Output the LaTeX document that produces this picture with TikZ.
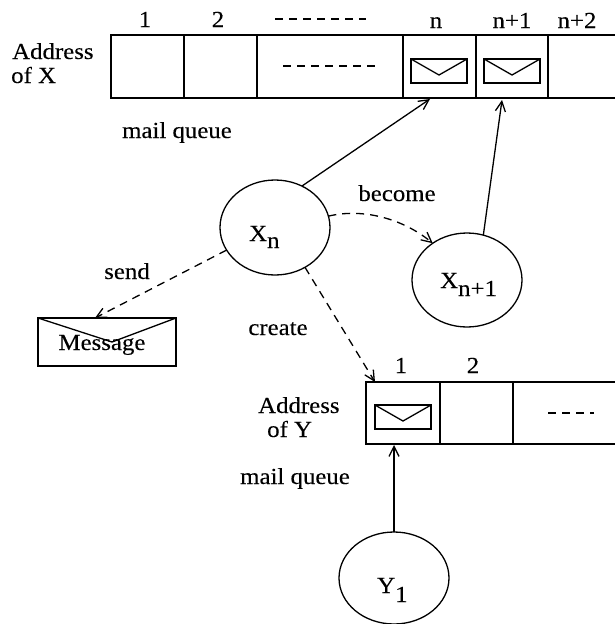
\documentclass[tikz,border=0pt]{standalone}
\usepackage{fontspec}
\setmainfont[FakeStretch=1.08,FakeBold=0.15]{Liberation Serif}
\usetikzlibrary{arrows.meta,shapes.geometric}
\tikzset{
  every node/.style={font=\fontsize{23}{25}\selectfont, inner sep=0pt},
  queue/.style={draw, line width=1.3pt},
  env/.style={draw, line width=1.3pt},
  actor/.style={draw, ellipse, line width=1.3pt, minimum width=110pt, outer sep=0pt},
  link/.style={line width=1.3pt, -{Straight Barb[length=10pt,width=10pt]}},
  dlink/.style={link, dash pattern=on 8pt off 6pt},
  lbl/.style={anchor=base},
  lbw/.style={anchor=base west},
  vdash/.style={line width=1.1pt, dash pattern=on 8pt off 6pt}
}
\newcommand{\envl}[2]{\draw[env] (#1,#2) rectangle ++(56,24); \draw[env] (#1,#2) -- ++(28,16) -- ++(28,-16);}
\begin{document}
\begin{tikzpicture}[x=1pt,y=-1pt]
\useasboundingbox (0,0) rectangle (615,624);
% top queue
\draw[queue] (615,35) -- (111,35) -- (111,98) -- (615,98);
\foreach \x in {184,257,403,476,548} \draw[queue] (\x,35) -- (\x,98);
\envl{411}{59}
\envl{484}{59}
\draw[vdash] (283,66) -- (376,66);
\draw[vdash] (275,19) -- (366,19);
\node[lbl] (t1) at (145,27) {1};
\node[lbl] (t2) at (218,27) {2};
\node[lbl] (tn) at (436,28) {n};
\node[lbl] (tnp) at (512,28) {n+1};
\node[lbl] (tnq) at (577,28) {n+2};
\node[lbw] (ax) at (12,59) {Address};
\node[lbw] (ox) at (11,83) {of X};
\node[lbl] (mq) at (177,138) {mail queue};
% targets on the queues
\coordinate (cn) at (430,99);
\coordinate (cnp) at (502,100);
\coordinate (ymsg) at (375,382);
\coordinate (yc) at (394,445);
\coordinate (msgtop) at (95,318);
% actors
\node[actor, minimum height=95pt] (xn) at (275,227.5) {};
\node[lbw] (xnl) at (249,241) {X\raisebox{-7pt}{n}};
\node[actor, minimum height=94pt] (xnp) at (467,280) {};
\node[lbw] (xnpl) at (440,288) {X\raisebox{-8pt}{n+1}};
\node[actor, minimum height=92pt] (yo) at (394,578) {};
\node[lbw] (yol) at (377,593) {Y\raisebox{-9pt}{1}};
\draw[link] (xn.57) -- (cn);
\draw[link] (xnp.70) -- (cnp);
\draw[link] (yo.north) -- (yc);
\draw[dlink] (xn.12) .. controls (362,208) and (402,218) .. (xnp.133);
\draw[dlink] (xn.205) -- (msgtop);
\draw[dlink] (xn.-53) -- (ymsg);
\node[lbl] (bec) at (397,201) {become};
\node[lbl] (snd) at (127,279) {send};
\node[lbl] (crt) at (278,335) {create};
% message
\draw[env] (38,318) rectangle (176,366);
\draw[env] (38,318) -- (112,342) -- (176,318);
\node[lbl] (msg) at (102,350) {Message};
% Y queue
\draw[queue] (615,382) -- (366,382) -- (366,444) -- (615,444);
\foreach \x in {440,513} \draw[queue] (\x,382) -- (\x,444);
\envl{375}{405}
\draw[vdash] (548,413) -- (594,413);
\node[lbl] (y1n) at (401,373) {1};
\node[lbl] (y2n) at (473,373) {2};
\node[lbw] (ay) at (258,413) {Address};
\node[lbw] (oy) at (267,437) {of Y};
\node[lbw] (my) at (240,484) {mail queue};
\end{tikzpicture}
\end{document}
